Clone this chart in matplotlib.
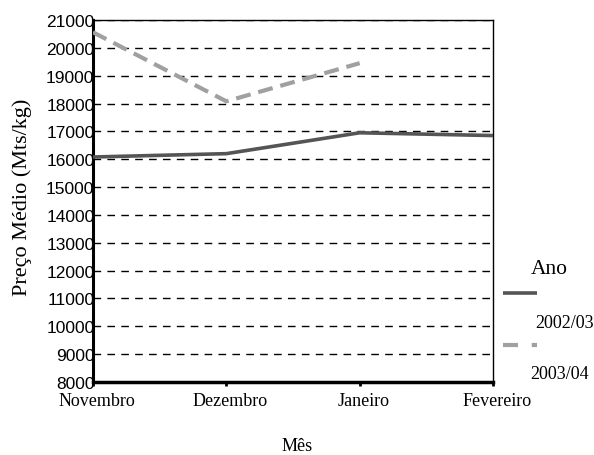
import matplotlib
matplotlib.use("Agg")
import matplotlib.pyplot as plt
from matplotlib.lines import Line2D
import matplotlib.transforms as mtransforms
import numpy as np

months = ["Novembro", "Dezembro", "Janeiro", "Fevereiro"]
series_2002 = [16080, 16200, 16950, 16850]
series_2003 = [20560, 18080, 19450, np.nan]
yticks = list(range(8000, 21001, 1000))

fig = plt.figure(figsize=(5.94, 4.56), dpi=100)
ax = fig.add_axes([93/594, 1-383/456, 400/594, 362/456])

x = np.arange(len(months))
ax.plot(x, series_2002, color="#555555", lw=2.6, solid_capstyle="butt", zorder=3)
ax.plot(x, series_2003, color="#a0a0a0", lw=3.0, linestyle=(0, (3.6, 1.9)), zorder=3)

ax.set_xlim(0, 3)
ax.set_ylim(8000, 21000)
ax.set_yticks(yticks)
ax.set_yticklabels([str(v) for v in yticks], fontfamily="Liberation Sans", fontsize=12.5)
ax.set_xticks(x)
ax.set_xticklabels(months, fontfamily="Liberation Serif", fontsize=13)
ax.tick_params(axis="y", length=0, pad=-1)
ax.tick_params(axis="x", length=3, width=2, direction="out", pad=4)

offset = mtransforms.ScaledTranslation(4/100, 0, fig.dpi_scale_trans)
for lbl in ax.get_xticklabels():
    lbl.set_transform(lbl.get_transform() + offset)

ax.yaxis.grid(True, color="black", lw=1.0, linestyle=(0, (5.5, 4.5)))
ax.set_axisbelow(True)

ax.spines["left"].set_linewidth(2.2)
ax.spines["bottom"].set_linewidth(2.5)
ax.spines["right"].set_linewidth(1.0)
ax.spines["top"].set_linewidth(1.0)

fig.text(22/594, 1-197/456, "Preço Médio (Mts/kg)", rotation=90, ha="center", va="center",
         fontfamily="Liberation Serif", fontsize=16)
fig.text(297/594, 1-447/456, "Mês", ha="center", va="center",
         fontfamily="Liberation Serif", fontsize=13)

# legend
fig.text(549/594, 1-270/456, "Ano", ha="center", va="center",
         fontfamily="Liberation Serif", fontsize=15.5)
fig.add_artist(Line2D([503/594, 537/594], [1-294/456, 1-294/456], color="#555555", lw=2.6,
                      solid_capstyle="butt", transform=fig.transFigure))
fig.text(565/594, 1-324/456, "2002/03", ha="center", va="center",
         fontfamily="Liberation Serif", fontsize=13)
fig.add_artist(Line2D([503/594, 537/594], [1-346/456, 1-346/456], color="#a0a0a0", lw=3.0,
                      linestyle=(0, (3.6, 3.3)), transform=fig.transFigure))
fig.text(560/594, 1-375/456, "2003/04", ha="center", va="center",
         fontfamily="Liberation Serif", fontsize=13)

fig.savefig("out.png", dpi=100)
